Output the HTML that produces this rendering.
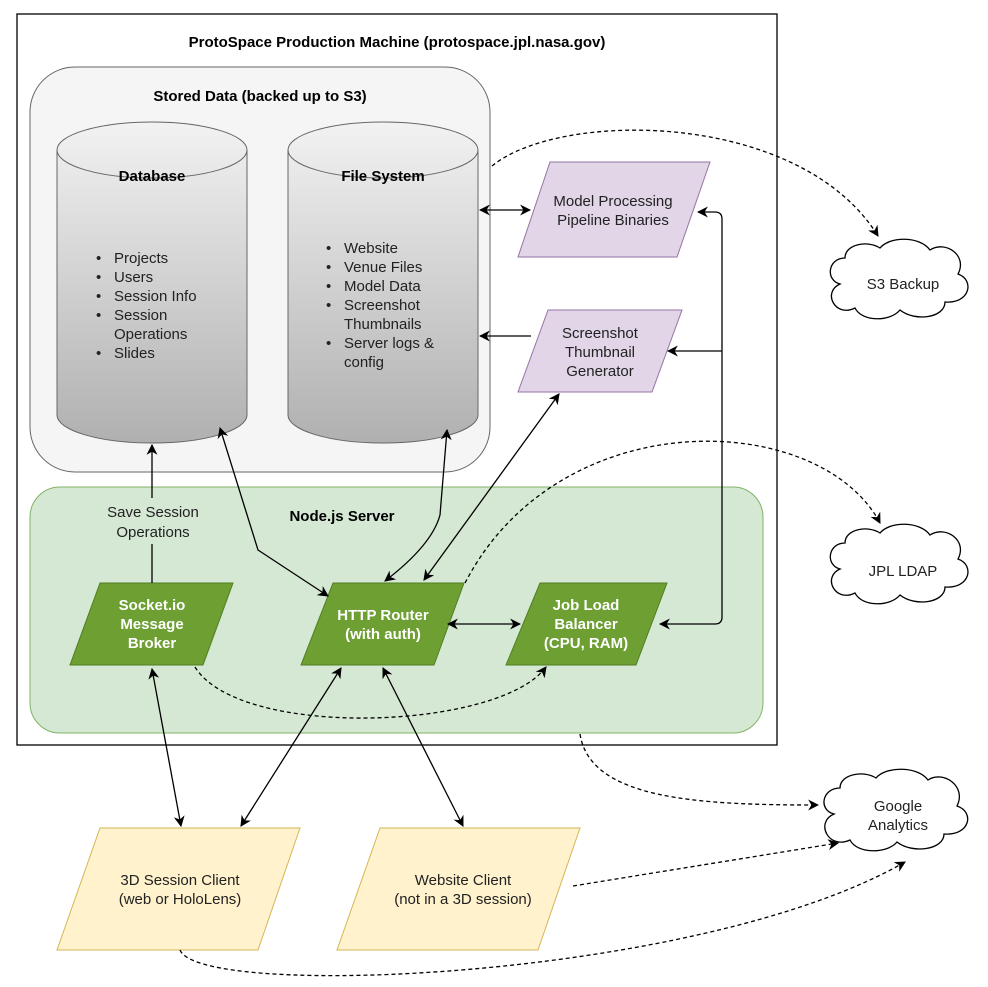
<!DOCTYPE html>
<html><head><meta charset="utf-8"><style>
html,body{margin:0;padding:0;background:#fff}
svg{display:block;font-family:"Liberation Sans",Arial,sans-serif}
</style></head><body>
<svg width="988" height="987" viewBox="0 0 988 987" xmlns="http://www.w3.org/2000/svg">
<defs>
<linearGradient id="cg" x1="0" y1="0" x2="0" y2="1">
<stop offset="0" stop-color="#f2f2f2"/><stop offset="1" stop-color="#b0b0b0"/></linearGradient>
<marker id="a" viewBox="0 0 10 10" refX="9" refY="5" markerWidth="11" markerHeight="11" orient="auto-start-reverse" markerUnits="userSpaceOnUse">
<path d="M0,0 L10,5 L0,10 L3,5 z" fill="#000"/></marker>
</defs>
<rect x="17" y="14" width="760" height="731" fill="#fff" stroke="#000" stroke-width="1.3"/>
<text x="397" y="47" font-size="15" font-weight="bold" text-anchor="middle">ProtoSpace Production Machine (protospace.jpl.nasa.gov)</text>
<rect x="30" y="67" width="460" height="405" rx="45" fill="#f5f5f5" stroke="#666"/>
<text x="260" y="101" font-size="15" font-weight="bold" text-anchor="middle">Stored Data (backed up to S3)</text>
<path d="M57,150 A95,28 0 0 1 247,150 V415 A95,28 0 0 1 57,415 Z" fill="url(#cg)" stroke="#666"/>
<path d="M57,150 A95,28 0 0 0 247,150" fill="none" stroke="#666"/>
<text x="152" y="181" font-size="15" font-weight="bold" text-anchor="middle">Database</text>
<g font-size="15" fill="#222">
<text x="96" y="263">•</text><text x="114" y="263">Projects</text>
<text x="96" y="282">•</text><text x="114" y="282">Users</text>
<text x="96" y="301">•</text><text x="114" y="301">Session Info</text>
<text x="96" y="320">•</text><text x="114" y="320">Session</text>
<text x="114" y="339">Operations</text>
<text x="96" y="358">•</text><text x="114" y="358">Slides</text>
</g>
<path d="M288,150 A95,28 0 0 1 478,150 V415 A95,28 0 0 1 288,415 Z" fill="url(#cg)" stroke="#666"/>
<path d="M288,150 A95,28 0 0 0 478,150" fill="none" stroke="#666"/>
<text x="383" y="181" font-size="15" font-weight="bold" text-anchor="middle">File System</text>
<g font-size="15" fill="#222">
<text x="326" y="253">•</text><text x="344" y="253">Website</text>
<text x="326" y="272">•</text><text x="344" y="272">Venue Files</text>
<text x="326" y="291">•</text><text x="344" y="291">Model Data</text>
<text x="326" y="310">•</text><text x="344" y="310">Screenshot</text>
<text x="344" y="329">Thumbnails</text>
<text x="326" y="348">•</text><text x="344" y="348">Server logs &amp;</text>
<text x="344" y="367">config</text>
</g>
<polygon points="550,162 710,162 677,257 518,257" fill="#e1d5e7" stroke="#9673a6"/>
<text x="613" y="206" font-size="15" text-anchor="middle" fill="#222">Model Processing</text>
<text x="613" y="225" font-size="15" text-anchor="middle" fill="#222">Pipeline Binaries</text>
<polygon points="548,310 682,310 652,392 518,392" fill="#e1d5e7" stroke="#9673a6"/>
<text x="600" y="338" font-size="15" text-anchor="middle" fill="#222">Screenshot</text>
<text x="600" y="357" font-size="15" text-anchor="middle" fill="#222">Thumbnail</text>
<text x="600" y="376" font-size="15" text-anchor="middle" fill="#222">Generator</text>
<rect x="30" y="487" width="733" height="246" rx="30" fill="#d5e8d4" stroke="#82b366"/>
<text x="342" y="521" font-size="15" font-weight="bold" text-anchor="middle">Node.js Server</text>
<g fill="#6d9f33" stroke="#4f7f22">
<polygon points="100,583 233,583 203,665 70,665"/>
<polygon points="333,583 464,583 434,665 301,665"/>
<polygon points="540,583 667,583 636,665 506,665"/>
</g>
<g font-size="15" font-weight="bold" fill="#fff" text-anchor="middle">
<text x="152" y="610">Socket.io</text><text x="152" y="629">Message</text><text x="152" y="648">Broker</text>
<text x="383" y="620">HTTP Router</text><text x="383" y="639">(with auth)</text>
<text x="586" y="610">Job Load</text><text x="586" y="629">Balancer</text><text x="586" y="648">(CPU, RAM)</text>
</g>
<polygon points="100,828 300,828 258,950 57,950" fill="#fff2cc" stroke="#d6b656"/>
<text x="180" y="885" font-size="15" text-anchor="middle" fill="#222">3D Session Client</text>
<text x="180" y="904" font-size="15" text-anchor="middle" fill="#222">(web or HoloLens)</text>
<polygon points="380,828 580,828 538,950 337,950" fill="#fff2cc" stroke="#d6b656"/>
<text x="463" y="885" font-size="15" text-anchor="middle" fill="#222">Website Client</text>
<text x="463" y="904" font-size="15" text-anchor="middle" fill="#222">(not in a 3D session)</text>
<g fill="#fff" stroke="#000" stroke-width="1.3">
<path id="cl" d="M845,258 C828,258 825,280 840,284 C822,292 835,318 855,308 C862,322 890,322 900,310 C915,322 945,318 945,302 C970,304 975,280 958,274 C968,255 945,240 930,250 C920,236 890,236 880,248 C868,240 845,244 845,258 Z"/>
<use href="#cl" y="285"/>
<path d="M840,788 C822,788 818,810 834,814 C815,822 828,850 850,840 C857,854 887,854 897,842 C912,854 944,850 944,834 C970,836 975,812 957,806 C967,786 943,770 928,780 C918,766 886,766 876,778 C864,770 840,774 840,788 Z"/>
</g>
<text x="903" y="289" font-size="15" text-anchor="middle" fill="#222">S3 Backup</text>
<text x="903" y="576" font-size="15" text-anchor="middle" fill="#222">JPL LDAP</text>
<text x="898" y="811" font-size="15" text-anchor="middle" fill="#222">Google</text>
<text x="898" y="830" font-size="15" text-anchor="middle" fill="#222">Analytics</text>
<g fill="none" stroke="#000" stroke-width="1.3">
<path d="M480,210 H530" marker-start="url(#a)" marker-end="url(#a)"/>
<path d="M531,336 H480" marker-end="url(#a)"/>
<path d="M660,624 H715 Q722,624 722,617 V219 Q722,212 715,212 H698" marker-start="url(#a)" marker-end="url(#a)"/>
<path d="M722,351 H668" marker-end="url(#a)"/>
<path d="M448,624 H520" marker-start="url(#a)" marker-end="url(#a)"/>
<path d="M559,394 L424,580" marker-start="url(#a)" marker-end="url(#a)"/>
<path d="M447,430 Q443,480 440,515 Q432,545 385,581" marker-start="url(#a)" marker-end="url(#a)"/>
<path d="M220,428 L258,550 L328,596" marker-start="url(#a)" marker-end="url(#a)"/>
<path d="M152,583 V544 M152,498 V445" marker-end="url(#a)"/>
<path d="M152,669 L181,826" marker-start="url(#a)" marker-end="url(#a)"/>
<path d="M341,668 L241,826" marker-start="url(#a)" marker-end="url(#a)"/>
<path d="M383,668 L463,826" marker-start="url(#a)" marker-end="url(#a)"/>
</g>
<text x="153" y="517" font-size="15" text-anchor="middle" fill="#222">Save Session</text>
<text x="153" y="537" font-size="15" text-anchor="middle" fill="#222">Operations</text>
<g fill="none" stroke="#000" stroke-width="1.3" stroke-dasharray="4,3">
<path d="M492,166 C560,110 800,110 878,236" marker-end="url(#a)"/>
<path d="M465,583 C560,400 820,410 880,523" marker-end="url(#a)"/>
<path d="M195,667 C240,740 500,730 546,667" marker-end="url(#a)"/>
<path d="M580,734 C590,800 700,805 818,805" marker-end="url(#a)"/>
<path d="M573,886 L838,843" marker-end="url(#a)"/>
<path d="M180,950 C200,1000 700,980 905,862" marker-end="url(#a)"/>
</g>
</svg>
</body></html>
